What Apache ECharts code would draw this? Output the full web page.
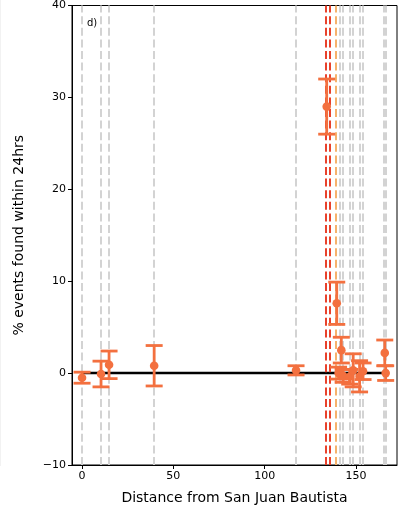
<!DOCTYPE html>
<html>
<head>
<meta charset="utf-8">
<script src="https://cdn.jsdelivr.net/npm/echarts@6/dist/echarts.min.js"></script>
<style>
  html, body { margin: 0; padding: 0; background: #fff; }
  #chart { width: 398px; height: 512px; }
</style>
</head>
<body>
<div id="chart"></div>
<script>
// Station distances (km) with detection rate and its uncertainty
const distances = [0, 10.4, 14.8, 39.5, 117.2, 134, 139.5, 142, 140.5, 143, 146.6, 148.5, 152, 153.9, 165.8, 166.3];
const percents  = [-0.5, -0.1, 0.9, 0.8, 0.3, 29, 7.6, 2.5, 0.0, -0.3, -0.4, 0.3, -0.35, 0.2, 2.2, 0.0];
const errors    = [0.6, 1.4, 1.5, 2.2, 0.5, 3.0, 2.3, 1.4, 0.65, 0.7, 0.8, 1.8, 1.7, 0.9, 1.4, 0.8];

// Reference positions drawn as dashed vertical lines
const greyLines   = [0, 10.4, 14.6, 39.3, 117, 141.1, 143, 146.6, 148.5, 152, 153.9, 165.3, 166.3];
const redLines    = [133.3, 135.6];
const orangeLines = [138.8];

// Zero baseline extent
const baseline = [[0, 0], [166, 0]];

const xTicks = [0, 50, 100, 150];

const ORANGE = '#f3703f';
const FONT = 'DejaVu Sans';

function vlineSeries(values, color) {
  return {
    type: 'line',
    data: [],
    silent: true,
    z: 1,
    markLine: {
      silent: true,
      animation: false,
      symbol: ['none', 'none'],
      label: { show: false },
      lineStyle: { color: color, width: 2, type: [8, 3.6] },
      emphasis: { disabled: true },
      data: values.map(v => ({ xAxis: v }))
    }
  };
}

const chart = echarts.init(document.getElementById('chart'), null, { renderer: 'canvas' });

chart.setOption({
  animation: false,
  backgroundColor: '#fff',
  grid: {
    left: 72, right: 1, top: 5, bottom: 47,
    show: true, borderColor: '#000', borderWidth: 1, backgroundColor: 'transparent'
  },
  graphic: [
    { type: 'rect', left: 0, top: 0, shape: { width: 1, height: 466 }, style: { fill: '#f2f2f2' }, silent: true },
    { type: 'text', left: 87, top: 18, style: { text: 'd)', font: '10px "DejaVu Sans"', fill: '#000' }, z: 10 }
  ],
  xAxis: {
    type: 'value',
    min: -5.5, max: 172.5,
    name: 'Distance from San Juan Bautista',
    nameLocation: 'middle', nameGap: 26,
    nameTextStyle: { fontFamily: FONT, fontSize: 14, color: '#000' },
    axisLine: { onZero: false, lineStyle: { color: '#000', width: 1 } },
    axisTick: { show: true, customValues: xTicks, length: 4, lineStyle: { color: '#000' } },
    axisLabel: { customValues: xTicks, fontFamily: FONT, fontSize: 11, color: '#000', margin: 6 },
    splitLine: { show: false }
  },
  yAxis: {
    type: 'value',
    min: -10, max: 40, interval: 10,
    name: '% events found within 24hrs',
    nameLocation: 'middle', nameGap: 46, nameRotate: 90,
    nameTextStyle: { fontFamily: FONT, fontSize: 14, color: '#000' },
    axisLine: { show: true, onZero: false, lineStyle: { color: '#000', width: 1 } },
    axisTick: { show: true, length: 4, lineStyle: { color: '#000' } },
    axisLabel: {
      fontFamily: FONT, fontSize: 11, color: '#000', margin: 6,
      formatter: v => (v < 0 ? '\u2212' + Math.abs(v) : String(v))
    },
    splitLine: { show: false }
  },
  series: [
    vlineSeries(greyLines, '#d3d3d3'),
    vlineSeries(redLines, '#e8412b'),
    vlineSeries(orangeLines, '#f6b26b'),
    {
      type: 'line',
      data: baseline,
      symbol: 'none',
      silent: true,
      z: 3,
      lineStyle: { color: '#000', width: 2.5 }
    },
    {
      type: 'custom',
      z: 5,
      silent: true,
      data: distances.map((d, i) => [d, percents[i], errors[i]]),
      encode: { x: 0, y: 1 },
      renderItem: function (params, api) {
        const x = api.value(0), y = api.value(1), e = api.value(2);
        const c = api.coord([x, y]);
        const hi = api.coord([x, y + e]);
        const lo = api.coord([x, y - e]);
        const hw = 8.5;
        const st = { stroke: ORANGE, lineWidth: 2.8 };
        return {
          type: 'group',
          children: [
            { type: 'line', shape: { x1: c[0], y1: hi[1], x2: c[0], y2: lo[1] }, style: st },
            { type: 'line', shape: { x1: c[0] - hw, y1: hi[1], x2: c[0] + hw, y2: hi[1] }, style: st },
            { type: 'line', shape: { x1: c[0] - hw, y1: lo[1], x2: c[0] + hw, y2: lo[1] }, style: st },
            { type: 'circle', shape: { cx: c[0], cy: c[1], r: 4.3 }, style: { fill: ORANGE } }
          ]
        };
      }
    }
  ]
});
</script>
</body>
</html>
